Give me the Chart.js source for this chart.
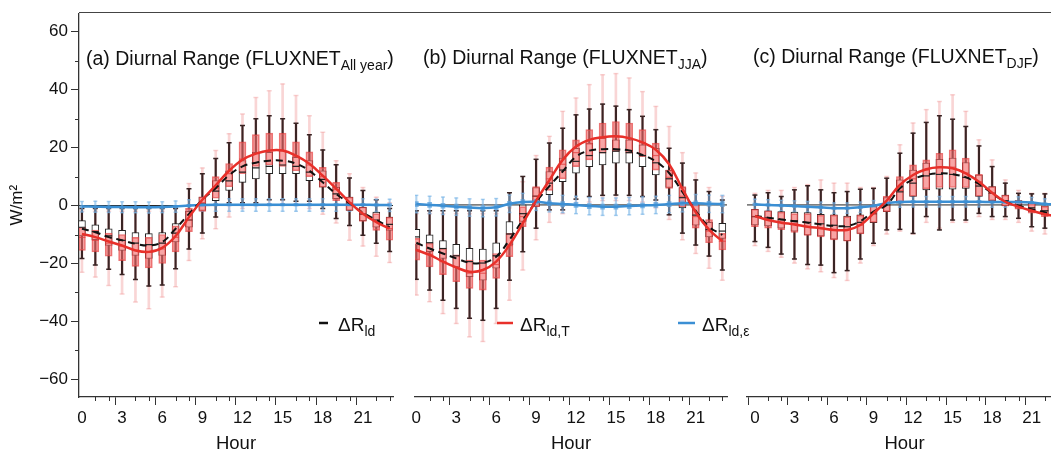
<!DOCTYPE html>
<html>
<head>
<meta charset="utf-8">
<script src="https://cdn.jsdelivr.net/npm/chart.js@4.4.1/dist/chart.umd.min.js"></script>
<style>
  html, body { margin: 0; padding: 0; background: #fff; overflow: hidden; }
  #wrap { position: relative; width: 1051px; height: 451px; overflow: hidden; }
  canvas { position: absolute; top: 0; }
  #frameTop { position: absolute; left: 79px; top: 12px; width: 972px; border-top: 1.3px solid #444; }
</style>
</head>
<body>
<div id="wrap">
  <canvas id="chartA" width="400" height="451" style="left:0"></canvas>
  <canvas id="chartC" width="340" height="451" style="left:735px"></canvas>
  <canvas id="chartB" width="365" height="451" style="left:400px"></canvas>
  <div id="frameTop"></div>
</div>
<script>
const FONT = "'Liberation Sans', Arial, Helvetica, sans-serif";
const AXIS = '#333';

const hours = [0, 1, 2, 3, 4, 5, 6, 7, 8, 9, 10, 11, 12, 13, 14, 15, 16, 17, 18, 19, 20, 21, 22, 23];
const yMajorTicks = [-60, -40, -20, 0, 20, 40, 60];

// box stats per hour: [min, q1, median, q3, max]
// --- (a) all year ---
const aLdBox = [[-18.3,-10.5,-7.5,-5.2,-1],[-20.5,-11.8,-9,-6.7,-1],[-22,-13.8,-10.5,-8,-1],[-23.8,-15.5,-12,-8.6,-1],
  [-25.5,-17.2,-13,-9.3,-1],[-27.8,-18.3,-13.5,-9.7,-1],[-27.4,-17.2,-13,-9.3,-1],[-21.8,-12.6,-9.5,-6.2,-1],
  [-15,-7.5,-5,-2,5.8],[-9.5,-1.7,0.5,2.9,11],[-4,1.7,5,8.6,16.2],[1,5.2,8.5,12,21.7],
  [1,8,11.5,15.5,27.6],[1,9.2,13,18.4,30],[2,11,13.5,18.4,31],[2,11,14,19,30],
  [1.5,11,13.5,16.6,28.4],[1.5,8.6,11.5,15.5,24.4],[-1,6.3,9,12,19.2],[-4.5,2.4,4,6.3,14.1],
  [-6.9,-1.7,0.5,2.9,9.5],[-10.3,-5.2,-3,-0.6,5.2],[-13,-7.5,-5,-2.3,2],[-15.9,-8.6,-6.5,-4,-1]];
const aLdTBox = [[-23,-15.5,-11,-7.5,-2],[-24.7,-16,-12,-8.5,-2],[-27.6,-17.5,-13,-9.5,-2],[-30.5,-19,-14,-10,-2],
  [-33.3,-21,-15.5,-11,-2],[-35.6,-21.5,-16,-11,-2],[-31.6,-20,-15,-10,-2],[-28,-16,-11,-7,-1],
  [-19,-9,-5,-1,7.6],[-11.5,-2,1,3,13],[-8,2.5,6,10,19],[-4,6.5,11,14.5,24.8],
  [-1,11,16,22,31.6],[0,13.5,18,24.5,37.3],[0.5,14,19,25,39.6],[0.5,13.5,19,25,42],
  [0,12,17,22,38],[-1,10,14,18.5,31],[-3,6.3,10,13.2,25.3],[-6,1.7,5.5,8,15.5],
  [-12,-1.7,1,2.9,11],[-14,-5.5,-3,-0.5,6.2],[-17.5,-8.6,-5.5,-2.8,2.9],[-19.7,-12,-8,-4,1]];
const aLdEBox = [[-2.2,-1.1,-0.4,0.3,1.4],[-2.3,-1.2,-0.5,0.2,1.5],[-2.4,-1.3,-0.5,0.2,1.4],[-2.5,-1.3,-0.6,0.1,1.3],
  [-2.5,-1.4,-0.6,0.1,1.3],[-2.6,-1.4,-0.6,0.1,1.2],[-2.5,-1.3,-0.5,0.2,1.3],[-2.3,-1.1,-0.3,0.4,1.6],
  [-2.1,-0.8,0,0.8,2],[-2,-0.6,0.2,1,2.2],[-2,-0.5,0.3,1.1,2.3],[-2,-0.5,0.3,1.1,2.3],
  [-2,-0.5,0.3,1.1,2.3],[-2,-0.5,0.3,1.1,2.3],[-2,-0.5,0.3,1.1,2.3],[-2,-0.5,0.3,1.1,2.3],
  [-2,-0.5,0.3,1.1,2.3],[-2,-0.5,0.3,1.1,2.3],[-2,-0.5,0.3,1.1,2.3],[-2,-0.5,0.3,1.1,2.3],
  [-2,-0.5,0.3,1.1,2.3],[-2,-0.5,0.3,1.1,2.3],[-2.1,-0.6,0.2,1,2.2],[-2.1,-0.6,0.2,1,2.2]];
const aLdMean  = [-8, -9.2, -10.9, -12, -13.2, -13.8, -12.6, -8, -2.9, 2, 6, 10.5, 13.5, 14.8, 15.5, 15.5, 14.5, 12, 8, 4, 0.8, -2.5, -5, -7.5];
const aLdTMean = [-9.8, -10.9, -12.4, -13.8, -15.5, -16, -14.6, -10.5, -4, 2, 7, 12, 15.8, 17.9, 19, 19, 17.2, 14.4, 10.3, 5.8, 1.1, -2.8, -5.7, -8];
const aLdEMean = [-0.3, -0.4, -0.5, -0.5, -0.6, -0.6, -0.5, -0.3, 0, 0.2, 0.3, 0.3, 0.3, 0.3, 0.3, 0.3, 0.3, 0.3, 0.3, 0.3, 0.3, 0.3, 0.2, 0.2];

// --- (b) JJA ---
const bLdBox = [[-25.6,-13.8,-11,-8.4,-2],[-29.3,-16.1,-13,-10.3,-2],[-32.8,-18.4,-15,-12.3,-2],[-35.6,-21.3,-17.5,-13.6,-2],
  [-39,-24.7,-19.5,-14.9,-2],[-39.7,-25.9,-20,-15.2,-2],[-35.6,-21.8,-17.5,-13,-2],[-25.9,-13.8,-10,-5.7,4.2],
  [-16.1,-5.7,-3,0,9.8],[-8,-0.5,3,6,15.7],[-1.7,3.5,7.5,11.5,21.3],[-1.7,8,12,16.1,26.4],
  [2,10.9,15,19.5,31],[2.9,13.2,17,21.3,33],[3.3,13.8,18,23,34.7],[3.4,14.4,18.5,22.4,34],
  [3.3,14.4,18,22.4,32.8],[2.9,13.2,17,20.7,30.5],[1.7,10.3,14.5,19.5,25.9],[-3.4,6,9,12,19.5],
  [-9.7,-1,2.5,6,14.4],[-13.8,-7,-3.5,0,8.6],[-17.6,-11,-8.5,-6,4.6],[-22.4,-11.5,-9,-6.3,1.7]];
const bLdTBox = [[-31,-19,-15.5,-11.5,-3],[-33.3,-21.3,-17,-13.2,-3],[-37.4,-24,-19.5,-15,-3],[-40.8,-26.4,-21.5,-17.2,-3],
  [-45.4,-28.7,-23.5,-19,-3],[-47,-29.3,-23.5,-19,-3],[-40.8,-25.3,-20.5,-16.7,-3],[-32.8,-17.8,-14,-9.8,-1],
  [-22.4,-7.5,-4,-0.6,8],[-12,-0.6,3,6.3,17],[-6,5,9,13,23.6],[-3,9,14,19,32.2],
  [0,13.2,18,22.4,36.8],[1,15.5,21,25.9,41.4],[1.5,17.8,23,28.2,44.8],[1.5,18.4,23.5,28.7,45.2],
  [1.5,17.8,23,28.2,43.7],[1,16.6,21.5,25.9,39],[-1,12,17,21.3,33.9],[-5,5.7,9.5,12,27],
  [-12,-0.6,3,6.3,18],[-16.7,-8,-4,0,11],[-21.8,-13,-9,-5,6],[-25.9,-15.5,-12.5,-9.8,3]];
const bLdEBox = [[-2.7,-0.9,0.3,1.5,3.3],[-3,-1.2,0,1.2,3],[-3.3,-1.5,-0.3,0.9,2.7],[-3.6,-1.8,-0.6,0.6,2.4],
  [-3.9,-2.1,-0.9,0.3,2.1],[-4.1,-2.3,-1.1,0.1,1.9],[-3.8,-2,-0.8,0.4,2.2],[-2.6,-0.8,0.4,1.6,3.4],
  [-2,-0.2,1,2.2,4],[-1.9,-0.1,1.1,2.3,4.1],[-2.4,-0.6,0.6,1.8,3.6],[-2.7,-0.9,0.3,1.5,3.3],
  [-3,-1.2,0,1.2,3],[-3.4,-1.6,-0.4,0.8,2.6],[-3.6,-1.8,-0.6,0.6,2.4],[-3.6,-1.8,-0.6,0.6,2.4],
  [-3.4,-1.6,-0.4,0.8,2.6],[-3.2,-1.4,-0.2,1,2.8],[-3,-1.2,0,1.2,3],[-2.7,-0.9,0.3,1.5,3.3],
  [-2.4,-0.6,0.6,1.8,3.6],[-2.4,-0.6,0.6,1.8,3.6],[-2.6,-0.8,0.4,1.6,3.4],[-2.7,-0.9,0.3,1.5,3.3]];
const bLdMean  = [-13, -15, -16.7, -18.4, -19.9, -19.9, -17.8, -12, -5.2, 1, 6.5, 11.5, 16.6, 18.7, 19.2, 19.2, 18.7, 17.2, 15, 11, 4.5, -2, -7.5, -10.3];
const bLdTMean = [-15.5, -17.2, -19.5, -21.5, -23, -22.4, -19.5, -13.8, -6.3, 1.5, 8.5, 15.5, 20.1, 22.4, 23.3, 23.6, 23, 21.5, 19, 14, 5.5, -2.5, -8.5, -12.5];
const bLdEMean = [0.3, 0, -0.3, -0.6, -0.9, -1.1, -0.8, 0.4, 1, 1.1, 0.6, 0.3, 0, -0.4, -0.6, -0.6, -0.4, -0.2, 0, 0.3, 0.6, 0.6, 0.4, 0.3];

// --- (c) DJF ---
const cLdBox = [[-12.6,-6.9,-4,-1.5,3.4],[-14.6,-7.2,-4.5,-2,4.2],[-16.9,-8,-5,-2.3,2.9],[-18.6,-9,-5.5,-2.5,5.2],
  [-20.5,-10.3,-6,-2.6,6.6],[-20.7,-10.7,-6.5,-3.2,5.2],[-23.3,-11.8,-7,-3.4,4.2],[-22.6,-12.3,-7.5,-3.8,4.6],
  [-18.6,-9.8,-6,-3.4,5.4],[-13.2,-6.1,-3,-0.3,5.7],[-8.6,-2.3,0,2.5,9.2],[-8.4,0.6,4.5,8.6,17.8],
  [-9.8,2.9,7.5,12,24.7],[-4,5.2,10,14.4,28.4],[-8.6,5.4,10.5,15.7,30.7],[-5.2,5.4,10.5,16.1,29.5],
  [-5.2,5.7,9.5,14.6,27],[-2.9,2.9,6.5,10.3,20.3],[-4,1.5,4,6.3,13.2],[-4,-0.3,1.5,3.4,7.5],
  [-4.6,-1.1,0,1.5,4],[-7.5,-2.3,-1,0.6,3.8],[-8,-3.4,-2,-0.3,3.8],[-9,-5,-3.5,-1.5,3]];
const cLdTBox = [[-14,-7.5,-4,-1.5,4],[-16,-8,-5,-2,5],[-18,-8.5,-6,-2.5,5],[-20,-9.5,-6.5,-3,6],
  [-22,-10.5,-7.5,-3,7],[-23,-11,-8,-3.5,8.6],[-25,-12,-8.5,-3.5,7.5],[-26,-12.5,-8.5,-4,7.5],
  [-20,-10,-7,-3.5,6],[-14,-6,-3,0,6],[-10,-2.3,0.5,3,9.8],[-9,1,5,9.8,20.7],
  [-10,3,9,13.8,28.2],[-6,5.5,12,15.5,32.8],[-8,6,13,17.8,35.6],[-6,6,13,19,37.9],
  [-6,6,11,16.1,32.2],[-4,3,8,10.5,22.4],[-5,1.5,4,6.3,15.5],[-5,-0.3,1,3.4,8.6],
  [-6,-1.5,-0.5,1.5,5],[-9,-2.8,-2,0.3,4],[-10,-4,-3,-0.5,4],[-11,-5.5,-4,-2,3]];
const cLdEBox = [[-1.6,-0.6,0.2,1,2],[-1.8,-0.8,0,0.8,1.8],[-2,-1,-0.2,0.6,1.6],[-2.2,-1.2,-0.4,0.4,1.4],
  [-2.4,-1.4,-0.6,0.2,1.2],[-2.6,-1.6,-0.8,0,1],[-2.9,-1.9,-1.1,-0.3,0.7],[-2.9,-1.9,-1.1,-0.3,0.7],
  [-2.6,-1.6,-0.8,0,1],[-2.1,-1.1,-0.3,0.5,1.5],[-1.2,-0.2,0.6,1.4,2.4],[-0.8,0.2,1,1.8,2.8],
  [-0.7,0.3,1.1,1.9,2.9],[-0.7,0.3,1.1,1.9,2.9],[-0.7,0.3,1.1,1.9,2.9],[-0.7,0.3,1.1,1.9,2.9],
  [-0.7,0.3,1.1,1.9,2.9],[-0.7,0.3,1.1,1.9,2.9],[-0.8,0.2,1,1.8,2.8],[-0.8,0.2,1,1.8,2.8],
  [-0.8,0.2,1,1.8,2.8],[-1,0,0.8,1.6,2.6],[-1.5,-0.5,0.3,1.1,2.1],[-1.6,-0.6,0.2,1,2]];
const cLdMean  = [-3.8, -4.4, -5, -5.6, -6.1, -6.7, -7.2, -7.2, -5.6, -2.3, 0, 5.7, 8.8, 10.3, 10.9, 10.6, 9.5, 7.2, 4, 1.1, -0.3, -1.5, -2.5, -3.5];
const cLdTMean = [-3.8, -5.2, -6.1, -6.7, -7.5, -8, -8.6, -8.6, -6.9, -2.9, 1.5, 6.9, 10.3, 12.3, 13, 12.6, 10.9, 8, 4.2, 1.1, -0.6, -2, -3.2, -4];
const cLdEMean = [0.2, 0, -0.2, -0.4, -0.6, -0.8, -1.1, -1.1, -0.8, -0.3, 0.6, 1, 1.1, 1.1, 1.1, 1.1, 1.1, 1.1, 1, 1, 1, 0.8, 0.3, 0.2];

// --- colours ---
const C_BLACK_WHISK = '#3a2424';
const C_PINK_WHISK = 'rgba(240,150,150,0.4)';
const C_BLUE_WHISK = 'rgba(120,180,230,0.6)';
const C_RED_BOX = 'rgba(244,105,105,0.6)';
const C_RED_EDGE = 'rgba(225,60,60,0.7)';
const C_BLUE_BOX = 'rgba(90,160,220,0.75)';
const C_RED_LINE = '#e8302a';
const C_BLUE_LINE = '#3b8fd4';
const C_BLACK_LINE = '#111';

// --- helpers ---
const bars = (box, lo, hi) => box.map((b, i) => ({ x: hours[i], y: [b[lo], b[hi]] }));
const pts = (box, k) => box.map((b, i) => ({ x: hours[i], y: b[k] }));
const caps = box => pts(box, 0).concat(pts(box, 4));
const line = vals => vals.map((v, i) => ({ x: hours[i], y: v }));

function whisker(box, color, w, order) {
  return { type: 'bar', data: bars(box, 0, 4), backgroundColor: color, borderWidth: 0,
    barThickness: w, grouped: false, order };
}
function capSet(box, color, r, order) {
  return { type: 'scatter', data: caps(box), pointStyle: 'line', pointRadius: r,
    borderColor: color, borderWidth: 1.5, order };
}
function boxSet(box, fill, edge, w, order) {
  return { type: 'bar', data: bars(box, 1, 3), backgroundColor: fill, borderColor: edge,
    borderWidth: 1, borderSkipped: false, barThickness: w, grouped: false, order };
}
function medSet(box, color, r, order) {
  return { type: 'scatter', data: pts(box, 2), pointStyle: 'line', pointRadius: r,
    borderColor: color, borderWidth: 1.2, order };
}
function meanSet(vals, color, width, dash, order) {
  return { type: 'line', data: line(vals), borderColor: color, borderWidth: width,
    borderDash: dash, pointRadius: 0, tension: 0.4, fill: false, order };
}

function rich(ctx, x, y, parts, mainPx, subPx) {
  ctx.fillStyle = '#111';
  ctx.textAlign = 'left';
  ctx.textBaseline = 'alphabetic';
  parts.forEach(([t, sub]) => {
    ctx.font = (sub ? subPx : mainPx) + 'px ' + FONT;
    ctx.fillText(t, x, y + (sub ? 5 : 0));
    x += ctx.measureText(t).width;
  });
}

function decor(cfg) {
  return {
    id: 'decor',
    beforeDatasetsDraw(chart) {
      const { ctx, chartArea: a, scales: { y } } = chart;
      const y0 = y.getPixelForValue(0);
      ctx.save();
      ctx.strokeStyle = '#222';
      ctx.lineWidth = 1;
      ctx.beginPath();
      ctx.moveTo(a.left, y0);
      ctx.lineTo(a.right, y0);
      ctx.stroke();
      ctx.restore();
    },
    afterDraw(chart) {
      const { ctx, chartArea: a, scales: { x, y } } = chart;
      ctx.save();
      // minor ticks
      ctx.strokeStyle = AXIS;
      ctx.lineWidth = 1;
      ctx.beginPath();
      hours.forEach(h => {
        if (h % 3 === 0) return;
        const px = Math.round(x.getPixelForValue(h)) + 0.5;
        ctx.moveTo(px, a.bottom);
        ctx.lineTo(px, a.bottom + 4);
      });
      if (cfg.showY) {
        [-50, -30, -10, 10, 30, 50].forEach(v => {
          const py = Math.round(y.getPixelForValue(v)) + 0.5;
          ctx.moveTo(a.left - 4, py);
          ctx.lineTo(a.left, py);
        });
      }
      ctx.stroke();
      // panel title
      rich(ctx, a.left + cfg.titleDx, cfg.titleY, cfg.title, 19.5, 14);
      // legend entries
      cfg.legend.forEach(e => {
        ctx.strokeStyle = e.color;
        ctx.lineWidth = 2.5;
        ctx.beginPath();
        ctx.moveTo(a.left + e.dx, 323);
        ctx.lineTo(a.left + e.dx + e.len, 323);
        ctx.stroke();
        rich(ctx, a.left + e.dx + e.len + e.gap, 331, [['\u0394R', false], [e.sub, true]], 19, 14);
      });
      ctx.restore();
    }
  };
}

function panel(id, p) {
  const datasets = [
    meanSet(p.ldT, C_RED_LINE, 2.5, [], 1),
    meanSet(p.ld, C_BLACK_LINE, 2, [7, 5], 2),
    meanSet(p.ldE, C_BLUE_LINE, 2.5, [], 3),
    medSet(p.boxT, C_RED_EDGE, 3.5, 4),
    medSet(p.box, '#222', 3.5, 4),
    boxSet(p.boxE, C_BLUE_BOX, 'rgba(0,0,0,0)', 6, 5),
    boxSet(p.boxT, C_RED_BOX, C_RED_EDGE, 7, 6),
    boxSet(p.box, '#fff', '#222', 7, 7),
    whisker(p.boxE, C_BLUE_WHISK, 1.5, 8),
    capSet(p.boxE, C_BLUE_WHISK, 2, 8),
    whisker(p.box, C_BLACK_WHISK, 1.5, 9),
    capSet(p.box, C_BLACK_WHISK, 2.5, 9),
    whisker(p.boxT, C_PINK_WHISK, 2, 10),
    capSet(p.boxT, C_PINK_WHISK, 2.5, 10)
  ];
  return new Chart(document.getElementById(id), {
    type: 'bar',
    data: { datasets },
    options: {
      responsive: false,
      animation: false,
      events: [],
      layout: { padding: { left: p.padL, right: p.padR, top: 12, bottom: 0 } },
      plugins: { legend: { display: false }, tooltip: { enabled: false } },
      scales: {
        x: {
          type: 'linear', offset: false, min: p.xMin, max: p.xMax,
          afterFit: s => { s.height = 54; },
          ticks: {
            stepSize: 1, autoSkip: false, includeBounds: false, maxRotation: 0, padding: 3,
            color: '#111', font: { family: FONT, size: 17 },
            callback: v => Number.isInteger(v) && v % 3 === 0 ? String(v) : ''
          },
          grid: {
            drawOnChartArea: false, tickLength: 8,
            tickColor: c => c.tick && Number.isInteger(c.tick.value) && c.tick.value % 3 === 0 ? AXIS : 'rgba(0,0,0,0)'
          },
          border: { color: AXIS, width: 1.3 },
          title: { display: true, text: 'Hour', color: '#111', padding: 0,
            font: { family: FONT, size: 18.5, lineHeight: 0.8 } }
        },
        y: {
          display: p.showY, min: -66.1, max: 66.4,
          afterFit: s => { if (p.showY) s.width = 79; },
          ticks: {
            stepSize: 10, autoSkip: false, includeBounds: false, padding: 3,
            color: '#111', font: { family: FONT, size: 17 },
            callback: v => yMajorTicks.includes(v) ? (v < 0 ? '\u2212' + (-v) : String(v)) : ''
          },
          grid: {
            drawOnChartArea: false, tickLength: 8,
            tickColor: c => c.tick && yMajorTicks.includes(c.tick.value) ? AXIS : 'rgba(0,0,0,0)'
          },
          border: { color: AXIS, width: 1.3 },
          title: { display: true, text: 'W/m\u00b2', color: '#111',
            padding: { top: 7, bottom: 0 }, font: { family: FONT, size: 17 } }
        }
      }
    },
    plugins: [decor(p)]
  });
}

panel('chartA', {
  box: aLdBox, boxT: aLdTBox, boxE: aLdEBox, ld: aLdMean, ldT: aLdTMean, ldE: aLdEMean,
  xMin: -0.22, xMax: 23.25, padL: 0, padR: 7, showY: true,
  titleDx: 7, titleY: 65,
  title: [['(a) Diurnal Range (FLUXNET', false], ['All year', true], [')', false]],
  legend: [{ dx: 240, len: 9, gap: 10, color: C_BLACK_LINE, sub: 'ld' }]
});
panel('chartB', {
  box: bLdBox, boxT: bLdTBox, boxE: bLdEBox, ld: bLdMean, ldT: bLdTMean, ldE: bLdEMean,
  xMin: -0.1, xMax: 23.35, padL: 15, padR: 38, showY: false,
  titleDx: 8, titleY: 63.5,
  title: [['(b) Diurnal Range (FLUXNET', false], ['JJA', true], [')', false]],
  legend: [{ dx: 82, len: 16, gap: 7, color: C_RED_LINE, sub: 'ld,T' },
           { dx: 263, len: 17, gap: 7, color: C_BLUE_LINE, sub: 'ld,\u03b5' }]
});
panel('chartC', {
  box: cLdBox, boxT: cLdTBox, boxE: cLdEBox, ld: cLdMean, ldT: cLdTMean, ldE: cLdEMean,
  xMin: -0.6, xMax: 23.3, padL: 12, padR: 13, showY: false,
  titleDx: 6, titleY: 63,
  title: [['(c) Diurnal Range (FLUXNET', false], ['DJF', true], [')', false]],
  legend: []
});
</script>
</body>
</html>
